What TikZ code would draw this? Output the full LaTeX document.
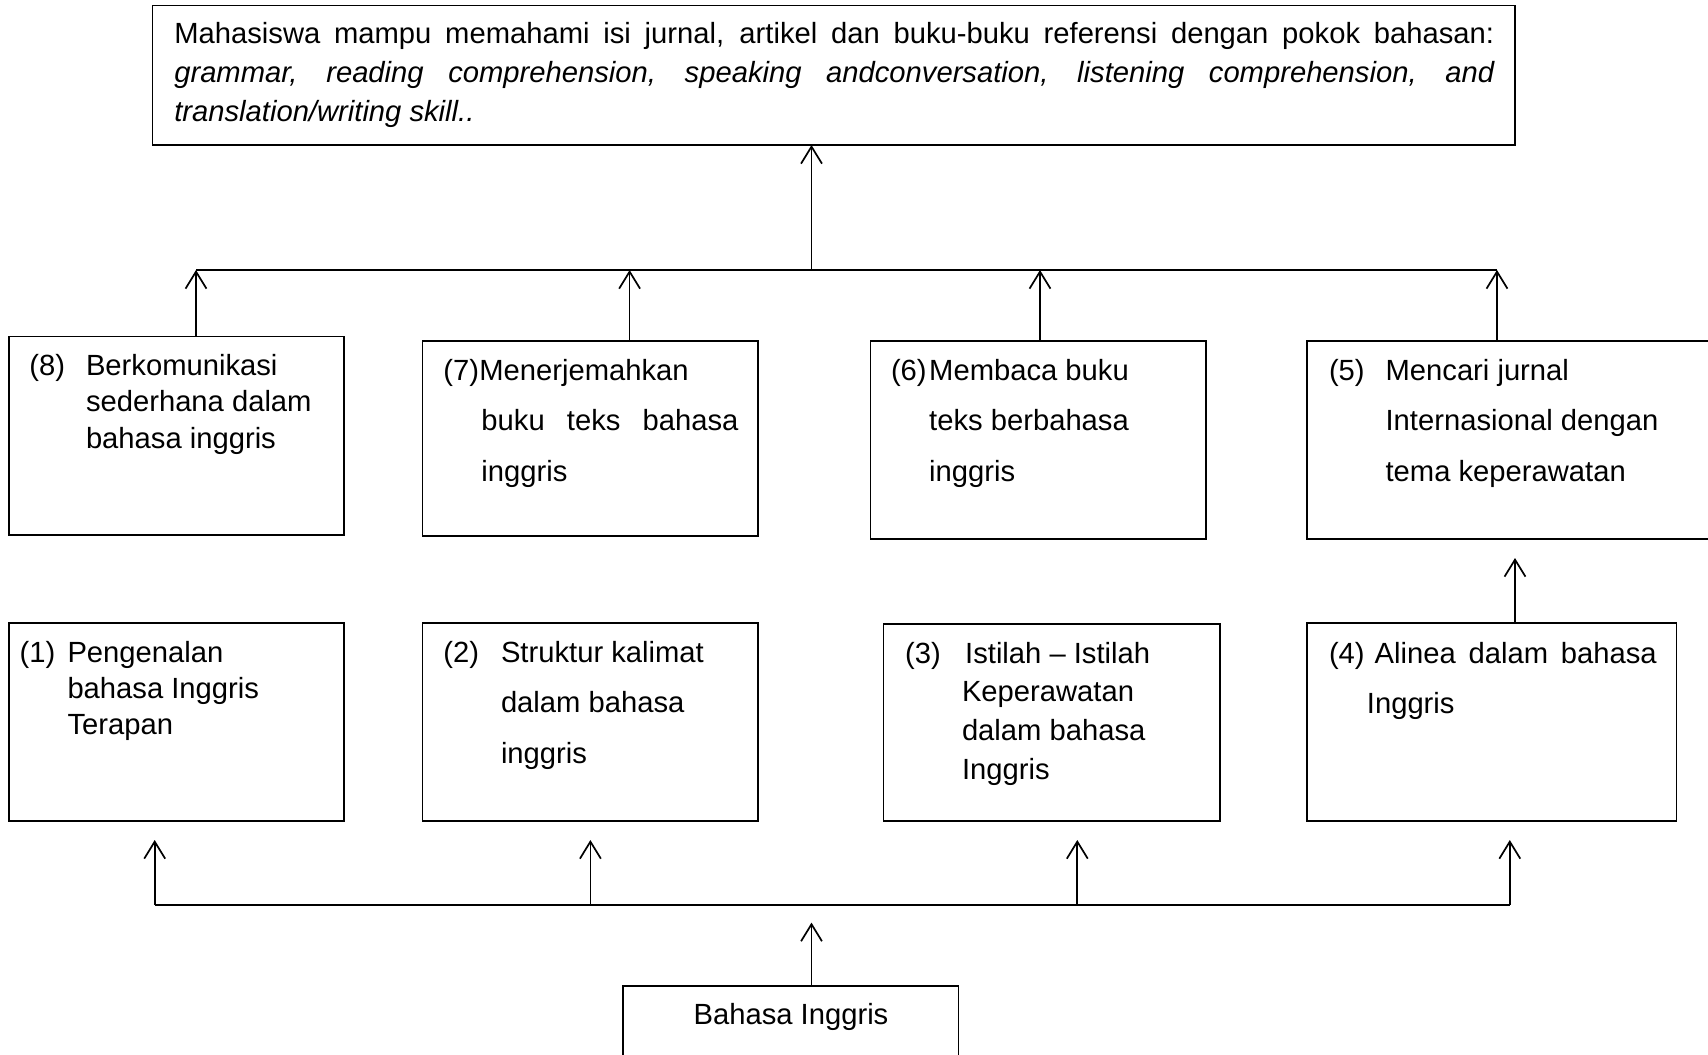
\documentclass[tikz,border=0pt]{standalone}
\usepackage{fontspec}
\setmainfont{Liberation Sans}
\usetikzlibrary{arrows.meta,fit,calc}
\newcommand{\natsp}{\spaceskip=0pt\xspaceskip=0pt\relax}
\begin{document}
\begin{tikzpicture}[x=0.411pt,y=-0.411pt,
  box/.style={draw, line width=0.7pt, inner sep=0pt, outer sep=0pt},
  txt/.style={inner sep=0pt, outer sep=0pt, anchor=base west, align=left, text width=190pt},
  fa/.style={font=\fontsize{12pt}{15pt}\selectfont},
  fb/.style={font=\fontsize{12pt}{20.8pt}\selectfont},
  fc/.style={font=\fontsize{12pt}{16pt}\selectfont},
  numtxt/.style={inner sep=0pt, outer sep=0pt, anchor=base west, font=\fontsize{12pt}{15pt}\selectfont},
  arr/.style={line width=0.7pt, -{Straight Barb[length=7pt,width=8.6pt]}},
  ln/.style={line width=0.7pt}]
\useasboundingbox (0,0) rectangle (1708,1055);

% boxes
\node[box, fit={(152.5,5.4) (1515,145)}] (top) {};
\node[box, fit={(8.7,336.6) (344.2,534.8)}] (b8) {};
\node[box, fit={(422.6,341) (758.2,536)}] (b7) {};
\node[box, fit={(870.4,341) (1205.8,539.2)}] (b6) {};
\node[box, fit={(1307,341) (1730,539)}] (b5) {};
\node[box, fit={(8.7,623) (344.2,821)}] (b1) {};
\node[box, fit={(422.6,623) (758.2,821)}] (b2) {};
\node[box, fit={(883.4,624) (1220,821)}] (b3) {};
\node[box, fit={(1307,623) (1676.4,821)}] (b4) {};
\node[box, fit={(623,986) (958.6,1090)}] (bot) {};

% texts
\node[txt, text width=548pt, font=\fontsize{12pt}{16.1pt}\selectfont] (ttop) at (174.3,43.4)
  {\natsp\leavevmode\hbox to 542.5pt{Mahasiswa mampu memahami isi jurnal, artikel dan buku-buku referensi dengan pokok bahasan:}\\
   \leavevmode\hbox to 542.5pt{\itshape grammar, reading comprehension, speaking andconversation, listening comprehension, and}\\
   \textit{translation/writing skill..}};

\node[numtxt] (n8) at (29.4,375.5) {(8)};
\node[txt, fa] (t8) at (86,375.5) {\natsp Berkomunikasi\\sederhana dalam\\bahasa inggris};

\node[numtxt] (n7) at (443.3,380.2) {(7)};
\node[txt, fb] (t7) at (479.3,380.2) {\natsp Menerjemahkan\\ \leavevmode\hspace{0.9pt}\hbox to 105.6pt{buku teks bahasa}\\ \hspace{0.9pt}inggris};

\node[numtxt] (n6) at (891,380.2) {(6)};
\node[txt, fb] (t6) at (929.2,380.2) {\natsp Membaca buku\\teks berbahasa\\inggris};

\node[numtxt] (n5) at (1329,380.2) {(5)};
\node[txt, fb] (t5) at (1385.6,380.2) {\natsp Mencari jurnal\\Internasional dengan\\tema keperawatan};

\node[numtxt] (n1) at (19.6,662) {(1)};
\node[txt, fa] (t1) at (67.5,662) {\natsp Pengenalan\\bahasa Inggris\\Terapan};

\node[numtxt] (n2) at (443.3,662) {(2)};
\node[txt, fb] (t2) at (501,662) {\natsp Struktur kalimat\\dalam bahasa\\inggris};

\node[numtxt] (n3) at (905.2,663) {(3)};
\node[txt, fc] (t3) at (962,663) {\natsp\hspace{1.3pt}Istilah – Istilah\\Keperawatan\\dalam bahasa\\Inggris};

\node[numtxt] (n4) at (1329,663) {(4)};
\node[txt, fb] (t4) at (1374.7,663) {\natsp\leavevmode\hbox to 115.9pt{Alinea dalam bahasa}\\ \hspace{-3.2pt}Inggris};

\node[inner sep=0pt, anchor=base, font=\fontsize{12pt}{15pt}\selectfont] (tb) at (791,1024.5) {Bahasa Inggris};

% upper connectors
\coordinate (hl) at (196,270);
\coordinate (hr) at (1497,270);
\coordinate (hm) at (811.5,270);
\coordinate (c7) at (629.6,270);
\coordinate (c6) at (1040,270);
\draw[ln] (hl) -- (hr);
\draw[arr] (hm) -- (hm |- top.south);
\draw[arr] (hl |- b8.north) -- (hl);
\draw[arr] (c7 |- b7.north) -- (c7);
\draw[arr] (c6 |- b6.north) -- (c6);
\draw[arr] (hr |- b5.north) -- (hr);

% box 4 to box 5
\coordinate (a45) at (1515,558);
\draw[arr] (a45 |- b4.north) -- (a45);

% lower connectors
\coordinate (bl) at (154.7,905);
\coordinate (br) at (1509.8,905);
\coordinate (p1) at (154.7,840);
\coordinate (p2) at (590.4,840);
\coordinate (p3) at (1077.3,840);
\coordinate (p4) at (1509.8,840);
\draw[ln] (bl) -- (br);
\draw[arr] (bl) -- (p1);
\draw[arr] (p2 |- bl) -- (p2);
\draw[arr] (p3 |- bl) -- (p3);
\draw[arr] (br) -- (p4);
\coordinate (pb) at (811.5,922.6);
\draw[arr] (pb |- bot.north) -- (pb);
\end{tikzpicture}
\end{document}
